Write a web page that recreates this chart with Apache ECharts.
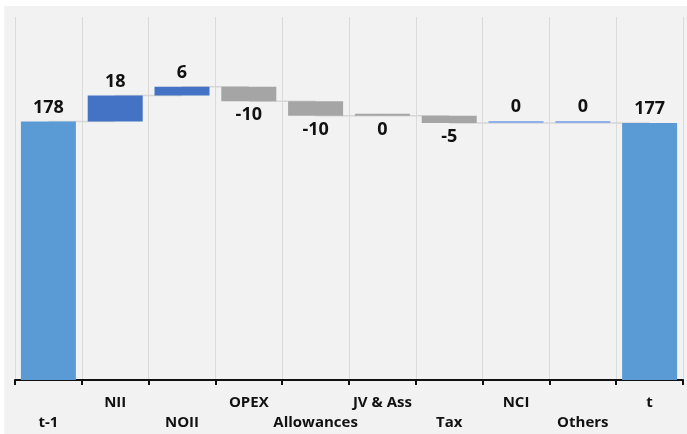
<!DOCTYPE html>
<html>
<head>
<meta charset="utf-8">
<script src="https://cdn.jsdelivr.net/npm/echarts@6/dist/echarts.min.js"></script>
<style>
  body { margin: 0; background: #ffffff; }
  #chart { position: absolute; left: 4px; top: 6px; width: 683px; height: 428px; background: #f2f2f2; }
</style>
</head>
<body>
<div id="chart"></div>
<script>
// 瀑布图数据
var categories = ['t-1', 'NII', 'NOII', 'OPEX', 'Allowances', 'JV & Ass', 'Tax', 'NCI', 'Others', 't'];
var startTotal = 178;
var changes = [18, 6, -10, -10, 0, -5, 0, 0];
var endTotal = 177;

var totalColor = '#5b9bd5';
var upColor = '#4472c4';
var downColor = '#a5a5a5';

// 计算底座和可见部分
var baseData = [];
var showData = [];
var levels = [];
var running = startTotal;
baseData.push(0);
showData.push({ value: startTotal, itemStyle: { color: totalColor }, label: { position: 'top' } });
levels.push([0, running]);
for (var i = 0; i < changes.length; i++) {
  var v = changes[i];
  var next = running + v;
  baseData.push(Math.min(running, next));
  var color = v > 0 ? upColor : (v < 0 ? downColor : '#8fb0e8');
  var pos = v >= 0 ? 'top' : 'bottom';
  if (categories[i + 1] === 'JV & Ass') { color = downColor; pos = 'bottom'; }
  showData.push({ value: v, itemStyle: { color: color }, label: { position: pos } });
  running = next;
  levels.push([i + 1, running]);
}
baseData.push(0);
showData.push({ value: endTotal, itemStyle: { color: totalColor }, label: { position: 'top' } });

var myChart = echarts.init(document.getElementById('chart'));
var option = {
  animation: false,
  grid: { left: 11, right: 4, top: 11, bottom: 54 },
  xAxis: {
    type: 'category',
    data: categories,
    axisLine: { lineStyle: { color: '#111', width: 2 } },
    axisTick: { show: true, length: 5, lineStyle: { color: '#111', width: 2 } },
    splitLine: { show: true, lineStyle: { color: '#dadada', width: 1 } },
    axisLabel: {
      interval: 0,
      margin: 13,
      color: '#111',
      fontFamily: 'Open Sans',
      fontWeight: 'bold',
      fontSize: 15,
      lineHeight: 20,
      formatter: function (val, idx) {
        return idx % 2 === 0 ? '\n' + val : val;
      }
    }
  },
  yAxis: {
    type: 'value',
    min: 0,
    max: 250,
    show: false,
    splitLine: { show: false }
  },
  series: [
    {
      type: 'custom',
      z: 1,
      renderItem: function (params, api) {
        var p = api.coord([api.value(0), api.value(1)]);
        var w = api.size([1, 0])[0];
        return {
          type: 'line',
          shape: { x1: p[0], y1: p[1], x2: p[0] + w, y2: p[1] },
          style: { stroke: '#d6d6d6', lineWidth: 1.5 }
        };
      },
      data: levels
    },
    {
      type: 'bar',
      stack: 'total',
      barWidth: 55,
      z: 2,
      itemStyle: { color: 'transparent' },
      silent: true,
      data: baseData
    },
    {
      type: 'bar',
      stack: 'total',
      barWidth: 55,
      barMinHeight: 2,
      z: 3,
      label: {
        show: true,
        distance: 5,
        color: '#111',
        fontFamily: 'Open Sans',
        fontWeight: 'bold',
        fontSize: 18
      },
      data: showData.map(function (d) {
        return { value: Math.abs(d.value), itemStyle: d.itemStyle, label: Object.assign({}, d.label, { formatter: String(d.value) }) };
      })
    }
  ]
};
myChart.setOption(option);
window.addEventListener('resize', function () { myChart.resize(); });
</script>
</body>
</html>
